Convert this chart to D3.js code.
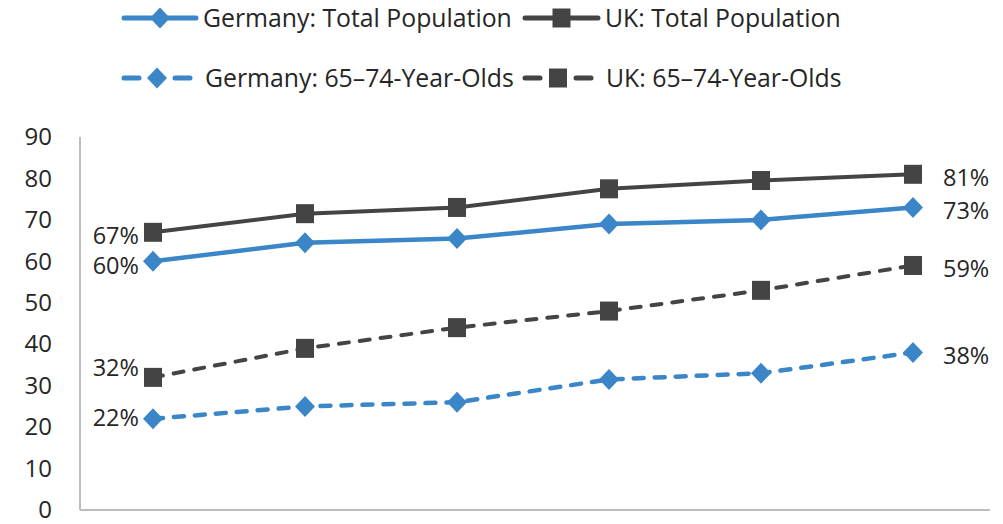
<!DOCTYPE html>
<html>
<head>
<meta charset="utf-8">
<script src="https://cdn.jsdelivr.net/npm/d3@7"></script>
<style>
  html, body { margin: 0; padding: 0; background: #fff; }
  svg { display: block; font-family: "Open Sans", Lato, sans-serif; }
</style>
</head>
<body>
<svg id="chart" width="1003" height="524"></svg>
<script>
// Survey waves along the horizontal axis (unlabelled)
const periods = [1, 2, 3, 4, 5, 6];

// Share of people, in percent
const germanyTotal = [60, 64.5, 65.5, 69, 70, 73];
const ukTotal      = [67, 71.5, 73, 77.5, 79.5, 81];
const germany6574  = [22, 25, 26, 31.5, 33, 38];
const uk6574       = [32, 39, 44, 48, 53, 59];

const yTicks = [0, 10, 20, 30, 40, 50, 60, 70, 80, 90];

const BLUE = "#3a86c8";
const GREY = "#444444";
const TEXT = "#262626";
const FONT = "'Open Sans', Lato, sans-serif";

const seriesList = [
  { name: "Germany: Total Population", values: germanyTotal, color: BLUE, dashed: false, marker: "diamond" },
  { name: "UK: Total Population",      values: ukTotal,      color: GREY, dashed: false, marker: "square" },
  { name: "Germany: 65\u201374-Year-Olds", values: germany6574, color: BLUE, dashed: true, marker: "diamond" },
  { name: "UK: 65\u201374-Year-Olds",      values: uk6574,      color: GREY, dashed: true, marker: "square" }
];

const svg = d3.select("#chart");
const plot = { left: 80, right: 990, top: 137, bottom: 510 };

const x = d3.scalePoint().domain(periods).range([153, 913]);
const y = d3.scaleLinear().domain([0, 90]).range([plot.bottom, plot.top]);

// Y axis labels
const yAxis = d3.axisLeft(y).tickValues(yTicks).tickSize(0).tickPadding(28);
const gy = svg.append("g").attr("transform", `translate(${plot.left},0)`).call(yAxis);
gy.select(".domain").remove();
gy.selectAll("text")
  .attr("font-family", FONT)
  .attr("font-size", 24)
  .attr("fill", TEXT);

// Axis lines
svg.append("line")
  .attr("x1", plot.left).attr("x2", plot.left)
  .attr("y1", plot.top).attr("y2", plot.bottom)
  .attr("stroke", "#bdbdbd").attr("stroke-width", 2);
svg.append("line")
  .attr("x1", plot.left).attr("x2", plot.right)
  .attr("y1", plot.bottom).attr("y2", plot.bottom)
  .attr("stroke", "#bdbdbd").attr("stroke-width", 2);

function drawMarker(g, type, color, cx, cy) {
  if (type === "diamond") {
    g.append("path")
      .attr("d", "M0,-10.5L10,0L0,10.5L-10,0Z")
      .attr("transform", `translate(${cx},${cy})`)
      .attr("fill", color);
  } else {
    g.append("rect")
      .attr("x", cx - 9).attr("y", cy - 9.5)
      .attr("width", 18).attr("height", 19)
      .attr("fill", color);
  }
}

const line = d3.line()
  .x((d, i) => x(periods[i]))
  .y(d => y(d));

// Draw the 65–74 series first so the totals sit on top
[2, 3, 0, 1].forEach(k => {
  const s = seriesList[k];
  const g = svg.append("g");
  g.append("path")
    .datum(s.values)
    .attr("d", line)
    .attr("fill", "none")
    .attr("stroke", s.color)
    .attr("stroke-width", s.color === BLUE ? 4.5 : 4)
    .attr("stroke-linecap", "round")
    .attr("stroke-dasharray", s.dashed ? "10,11" : null);
  s.values.forEach((v, i) => drawMarker(g, s.marker, s.color, x(periods[i]), y(v)));
});

// End-point value labels
const endLabels = [
  { s: 1, i: 0, side: "left",  dy: 3 },
  { s: 0, i: 0, side: "left",  dy: 4 },
  { s: 3, i: 0, side: "left",  dy: -10 },
  { s: 2, i: 0, side: "left",  dy: -1 },
  { s: 1, i: 5, side: "right", dy: 3 },
  { s: 0, i: 5, side: "right", dy: 3 },
  { s: 3, i: 5, side: "right", dy: 3 },
  { s: 2, i: 5, side: "right", dy: 3 }
];
endLabels.forEach(l => {
  const s = seriesList[l.s];
  const v = s.values[l.i];
  const px = x(periods[l.i]);
  svg.append("text")
    .attr("x", l.side === "left" ? px - 14 : px + 30)
    .attr("y", y(v) + l.dy)
    .attr("dy", "0.35em")
    .attr("text-anchor", l.side === "left" ? "end" : "start")
    .attr("font-size", 23.5)
    .attr("fill", TEXT)
    .text(d3.format(".0f")(v) + "%");
});

// Legend
const legendItems = [
  { s: 0, x0: 122, x1: 198, tx: 203, row: 0 },
  { s: 1, x0: 523, x1: 600, tx: 605, row: 0 },
  { s: 2, x0: 122, x1: 192, tx: 205, row: 1 },
  { s: 3, x0: 523, x1: 593, tx: 606, row: 1 }
];
const rowY = [18, 78];
legendItems.forEach(item => {
  const s = seriesList[item.s];
  const ly = rowY[item.row];
  const g = svg.append("g");
  const mid = (item.x0 + item.x1) / 2;
  if (s.dashed) {
    // short dash, marker, short dash
    [[item.x0, mid - 16], [mid + 16, item.x1]].forEach(([a, b]) => {
      g.append("line")
        .attr("x1", a + 2).attr("x2", b - 2)
        .attr("y1", ly).attr("y2", ly)
        .attr("stroke", s.color).attr("stroke-width", 5)
        .attr("stroke-linecap", "round");
    });
  } else {
    g.append("line")
      .attr("x1", item.x0 + 2).attr("x2", item.x1 - 2)
      .attr("y1", ly).attr("y2", ly)
      .attr("stroke", s.color).attr("stroke-width", 5)
      .attr("stroke-linecap", "round");
  }
  drawMarker(g, s.marker, s.color, mid, ly);
  g.append("text")
    .attr("x", item.tx)
    .attr("y", ly)
    .attr("dy", "0.35em")
    .attr("font-size", 24.8)
    .attr("fill", TEXT)
    .text(s.name);
});
</script>
</body>
</html>
